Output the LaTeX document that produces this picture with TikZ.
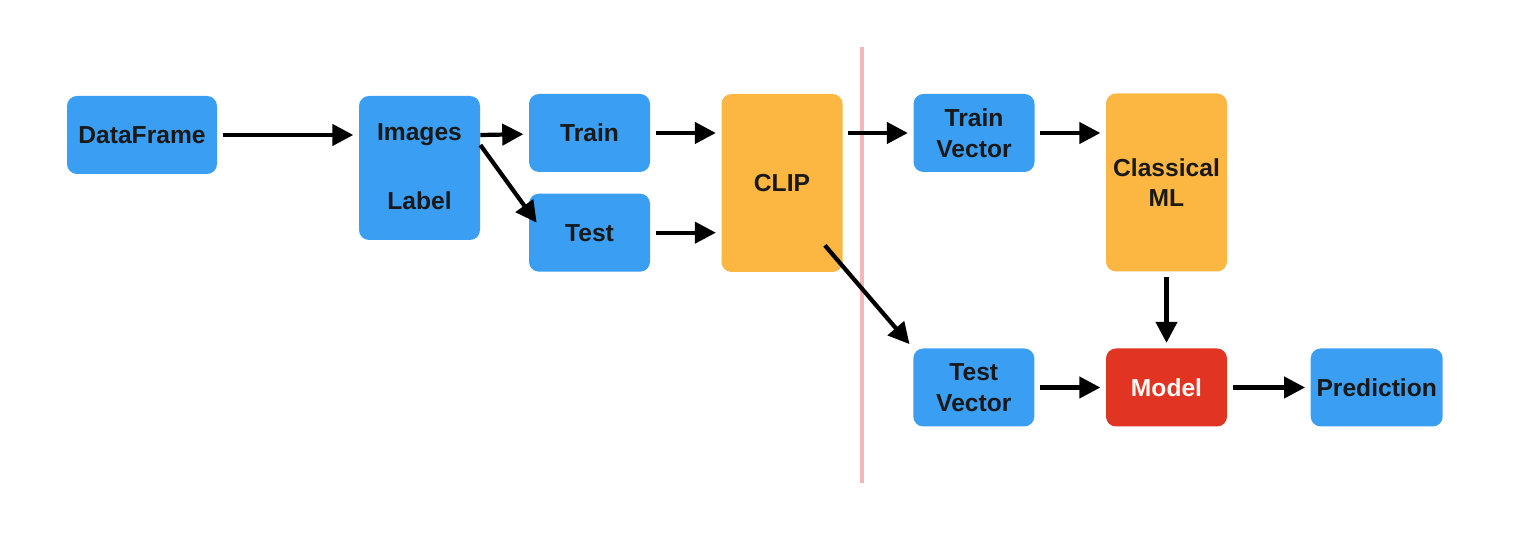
\documentclass[tikz,border=0pt]{standalone}
\usepackage{fontspec}
\setmainfont{Liberation Sans}
\usetikzlibrary{positioning,arrows.meta}
\definecolor{boxblue}{RGB}{58,158,242}
\definecolor{boxorange}{RGB}{252,182,66}
\definecolor{boxred}{RGB}{226,52,34}
\definecolor{cutpink}{RGB}{244,182,182}

\begin{document}
\begin{tikzpicture}[
    box/.style={rounded corners=0.2cm, minimum width=2.42cm, minimum height=1.56cm,
      align=center, font=\fontsize{14}{17.5}\selectfont\bfseries, text=black!90},
    bluebox/.style={box, fill=boxblue},
    orangebox/.style={box, fill=boxorange, minimum height=3.56cm},
    boxtext/.style={font=\fontsize{14}{17.5}\selectfont\bfseries, text=black!90},
    arr/.style={line width=2.4pt, -{Triangle[length=12pt,width=12pt]}, shorten <=3pt, shorten >=3pt}
  ]
    \useasboundingbox (0,0) rectangle (30.64,10.8);

    % Data side: split into train and test
    \node[bluebox, minimum width=3cm] (df) at (2.84,8.1) {DataFrame};
    \node[bluebox, minimum height=2.88cm] (imgs) at (8.39,7.44) {};
    \node[boxtext] (imgtxt) at (8.39,8.1) {Images};
    \node[boxtext] (lbltxt) at (8.39,6.78) {Label};
    \node[bluebox] (train) at (11.79,8.14) {Train};
    \node[bluebox] (test) [below=0.42cm of train] {Test};
    \node[orangebox] (clip) at (15.64,7.14) {CLIP};

    % Separator
    \coordinate (cuttop) at (17.24,9.86);
    \coordinate (cutbot) at (17.24,1.14);
    \draw[cutpink, line width=2.2pt] (cuttop) -- (cutbot);

    % Vector side: classical model
    \node[bluebox] (trainvec) at (19.48,8.14) {Train\\Vector};
    \node[orangebox] (cml) at (23.33,7.15) {Classical\\ML};
    \node[box, fill=boxred, text=white!95!brown] (model) at (23.33,3.05) {Model};
    \node[bluebox] (testvec) [left=1.42cm of model] {Test\\Vector};
    \node[bluebox, minimum width=2.58cm] (pred) [right=1.66cm of model] {Prediction};

    \draw[arr] (df.east) -- (df.east -| imgs.west);
    \draw[arr, shorten <=0pt] (imgs.east |- imgtxt) -- (train);
    \draw[arr, shorten <=0pt, shorten >=0pt] ([yshift=-0.2cm]imgs.east |- imgtxt) -- ([xshift=0.16cm,yshift=0.2cm]test.west);
    \draw[arr] (train) -- (train -| clip.west);
    \draw[arr] (test) -- (test -| clip.west);
    \draw[arr] (clip.east |- trainvec) -- (trainvec);
    \draw[arr, shorten <=0pt] ([xshift=-0.36cm,yshift=0.54cm]clip.south east) -- (testvec.north west);
    \draw[arr] (trainvec) -- (cml.west |- trainvec);
    \draw[arr] (cml) -- (model);
    \draw[arr] (testvec) -- (model);
    \draw[arr] (model) -- (pred);
  \end{tikzpicture}
\end{document}
